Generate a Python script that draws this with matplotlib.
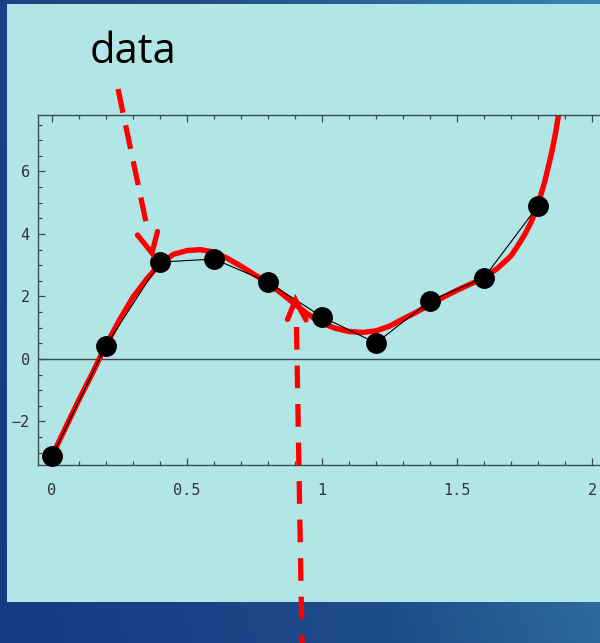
import numpy as np
import matplotlib
matplotlib.use("Agg")
import matplotlib.pyplot as plt
from matplotlib.lines import Line2D
from matplotlib.patches import Rectangle
from matplotlib.colors import LinearSegmentedColormap

# ---- data ----
x_data = [0.0, 0.2, 0.4, 0.6, 0.8, 1.0, 1.2, 1.4, 1.6, 1.8]
y_data = [-3.12, 0.43, 3.10, 3.20, 2.46, 1.35, 0.51, 1.86, 2.60, 4.90]

curve_x = [0.0, 0.05, 0.1, 0.15, 0.2, 0.25, 0.3, 0.35, 0.4, 0.45, 0.5, 0.55,
           0.6, 0.65, 0.7, 0.75, 0.8, 0.85, 0.9, 0.95, 1.0, 1.05, 1.1, 1.15,
           1.2, 1.25, 1.3, 1.35, 1.4, 1.45, 1.5, 1.55, 1.6, 1.65, 1.7, 1.725,
           1.75, 1.775, 1.8, 1.825, 1.85, 1.865, 1.877]
curve_y = [-3.1, -2.2, -1.3, -0.45, 0.45, 1.25, 1.98, 2.55, 3.05, 3.35, 3.47, 3.5,
           3.42, 3.22, 2.97, 2.7, 2.43, 2.1, 1.75, 1.42, 1.15, 0.98, 0.88, 0.85,
           0.9, 1.05, 1.28, 1.5, 1.75, 1.98, 2.2, 2.4, 2.6, 2.9, 3.3, 3.62,
           3.97, 4.39, 4.95, 5.67, 6.58, 7.23, 7.85]

x_ticks = [0, 0.5, 1, 1.5, 2]
x_tick_labels = ["0", "0.5", "1", "1.5", "2"]
y_ticks = [-2, 0, 2, 4, 6]
y_tick_labels = ["\u22122", "0", "2", "4", "6"]

annotation_text = "data"

# ---- figure ----
W, H = 600, 643
fig = plt.figure(figsize=(W / 100, H / 100), dpi=100)

def fx(px):
    return px / W

def fy(py):
    return 1 - py / H

# background gradient
bg = fig.add_axes([0, 0, 1, 1], zorder=-10)
bg.set_axis_off()
cmap = LinearSegmentedColormap.from_list("bgc", ["#143a82", "#1f4d8c", "#3a84ae"])
gx = np.linspace(0, 1, 300)
gy = np.linspace(0, 1, 300)
GX, GY = np.meshgrid(gx, gy)
grad = 0.75 * GX + 0.25 * (1 - GY)
bg.imshow(grad, cmap=cmap, extent=[0, 1, 0, 1], aspect="auto", origin="upper")
bg.set_xlim(0, 1)
bg.set_ylim(0, 1)
bg.add_patch(Rectangle((fx(7), fy(602)), 1 - fx(7), fy(4) - fy(602),
                       facecolor="#b2e6e6", edgecolor="none",
                       transform=bg.transAxes))

# main axes
ax = fig.add_axes([fx(38), fy(465), 1 - fx(38), fy(115) - fy(465)])
ax.set_facecolor("none")
x0_px, px_per_unit = 52, 270
ax.set_xlim(-(x0_px - 38) / px_per_unit, (600 - x0_px) / px_per_unit)
ax.set_ylim(-(465 - 359) / 31.25, (359 - 115) / 31.25)

ax.axhline(0, color="#3c4a4a", lw=1.0, zorder=1)
ax.plot(curve_x, curve_y, color="#ff0000", lw=3.9, solid_capstyle="round",
        solid_joinstyle="round", zorder=2)
ax.plot(x_data, y_data, color="black", lw=0.8, zorder=3)
ax.plot(x_data, y_data, "o", color="black", markersize=14, zorder=4, clip_on=False)

for s in ["left", "bottom", "top"]:
    ax.spines[s].set_color("#3c4a4a")
    ax.spines[s].set_linewidth(1.0)
ax.spines["right"].set_visible(False)

ax.set_xticks(x_ticks)
ax.set_xticklabels(x_tick_labels)
ax.set_xticks(np.arange(0, 2.01, 0.1), minor=True)
ax.set_yticks(y_ticks)
ax.set_yticklabels(y_tick_labels)
ax.set_yticks(np.arange(-3, 7.6, 0.5), minor=True)
ax.tick_params(axis="both", which="both", direction="in", color="#3c4a4a",
               labelcolor="#333333", width=0.9)
ax.tick_params(axis="x", which="both", top=True, bottom=True)
ax.tick_params(axis="y", which="both", left=True, right=False)
ax.tick_params(which="major", length=5)
ax.tick_params(which="minor", length=3)
ax.tick_params(axis="x", pad=13)
ax.tick_params(axis="y", pad=6)
for lab in ax.get_xticklabels() + ax.get_yticklabels():
    lab.set_fontfamily("DejaVu Sans Mono")
    lab.set_fontsize(11)

# "data" label
fig.text(fx(133), fy(52), annotation_text, ha="center", va="center",
         fontsize=30, family="Open Sans", color="black")

# arrows (decorations in figure pixels)
red = "#ff0000"
def fig_line(xs, ys, **kw):
    ln = Line2D([fx(v) for v in xs], [fy(v) for v in ys],
                transform=fig.transFigure, zorder=10, **kw)
    fig.add_artist(ln)

fig_line([118, 146], [89, 222], color=red, lw=3.8,
         linestyle=(0, (4.6, 2.4)), dash_capstyle="butt")
fig_line([137.5, 152, 157.5], [235, 253, 231.5], color=red, lw=3.8,
         solid_capstyle="round", solid_joinstyle="miter")

fig_line([296.5, 302], [327, 643], color=red, lw=3.8,
         linestyle=(0, (4.3, 3.0)), dash_capstyle="butt")
fig_line([287.5, 295.5, 306], [319.5, 300, 320], color=red, lw=3.8,
         solid_capstyle="round", solid_joinstyle="miter")

fig.savefig("out.png", dpi=100)
